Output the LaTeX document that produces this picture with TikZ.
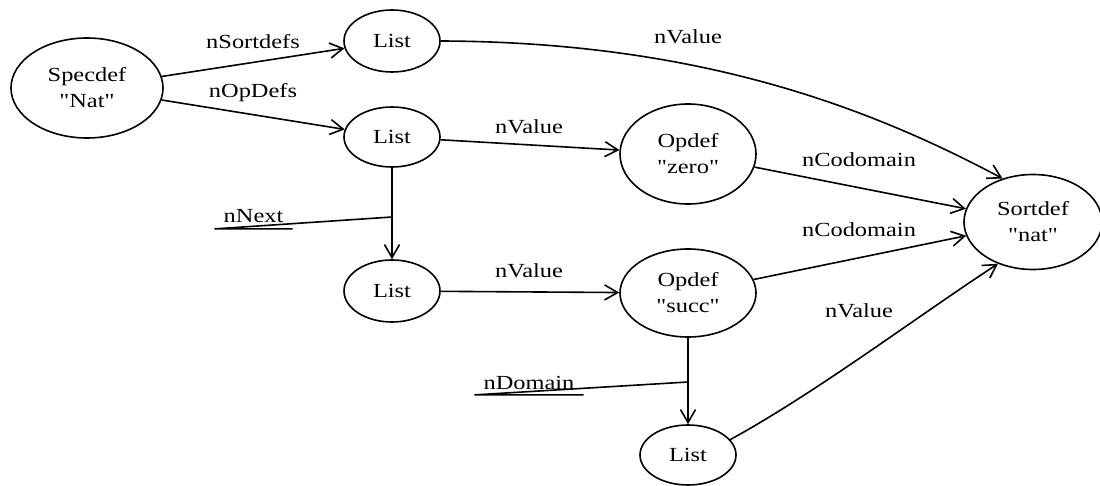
\documentclass[tikz,border=0pt]{standalone}
\usepackage{fontspec}
\setmainfont{Liberation Serif}[FakeStretch=1.22, Ligatures=TeXOff]
\usetikzlibrary{arrows.meta, shapes.geometric}

\begin{document}
\begin{tikzpicture}[x=1pt, y=-1pt,
  every node/.style={font=\fontsize{20}{26}\selectfont},
  obj/.style={draw, ellipse, line width=1.6pt, inner sep=0pt, align=center},
  rel/.style={line width=1.6pt, -{Straight Barb[length=13pt,width=15pt]}},
  plain/.style={line width=1.6pt},
  lbl/.style={anchor=base, inner sep=0pt},
  ulbl/.style={anchor=base, inner xsep=9pt, inner ysep=5.5pt}]

  \useasboundingbox[fill=white] (0,0) rectangle (1100,486);

  % objects
  \node[obj, minimum width=152pt, minimum height=100pt] (spec) at (87,88) {Specdef\\"Nat"};
  \node[obj, minimum width=96pt, minimum height=62pt] (l1) at (392,41) {List};
  \node[obj, minimum width=96pt, minimum height=60pt] (l2) at (392,137) {List};
  \node[obj, minimum width=96pt, minimum height=62pt] (l3) at (392,291) {List};
  \node[obj, minimum width=136pt, minimum height=100pt] (zero) at (688,154) {Opdef\\"zero"};
  \node[obj, minimum width=136pt, minimum height=88pt] (succ) at (688,293) {Opdef\\"succ"};
  \node[obj, minimum width=96pt, minimum height=60pt] (l4) at (688,455) {List};
  \node[obj, minimum width=138pt, minimum height=95pt] (sort) at (1033,222) {Sortdef\\"nat"};

  % references between objects
  \draw[rel] (spec) -- (l1);
  \draw[rel] (spec) -- (l2);
  \draw[rel] (l2) -- (zero);
  \draw[rel] (l3) -- (succ);
  \draw[rel] (zero) -- (sort);
  \draw[rel] (succ) -- (sort);
  \draw[rel] (l2) -- (l3);
  \draw[rel] (succ) -- (l4);
  \draw[rel] (l1.east) .. controls (700,42) and (870,108) .. (sort.125);
  \draw[rel] (l4.20) .. controls (817,392) and (915,318) .. (sort.230);

  % edge labels
  \node[lbl] (tSort) at (253,49) {nSortdefs};
  \node[lbl] (tOps) at (253,98) {nOpDefs};
  \node[lbl] (tVal1) at (688,44) {nValue};
  \node[lbl] (tVal2) at (529,134) {nValue};
  \node[lbl] (tCod1) at (859,167) {nCodomain};
  \node[lbl] (tCod2) at (859,237) {nCodomain};
  \node[lbl] (tVal3) at (529,278) {nValue};
  \node[lbl] (tVal4) at (859,317) {nValue};

  % underlined labels with leader lines
  \coordinate (jNext) at (l2.south |- 0,217);
  \coordinate (jDom) at (succ.south |- 0,382);
  \node[ulbl] (tNext) at (253.5,223) {nNext};
  \node[ulbl] (tDom) at (529,389) {nDomain};
  \draw[plain] (jNext) -- (tNext.south west) -- (tNext.south east);
  \draw[plain] (jDom) -- (tDom.south west) -- (tDom.south east);
\end{tikzpicture}
\end{document}
